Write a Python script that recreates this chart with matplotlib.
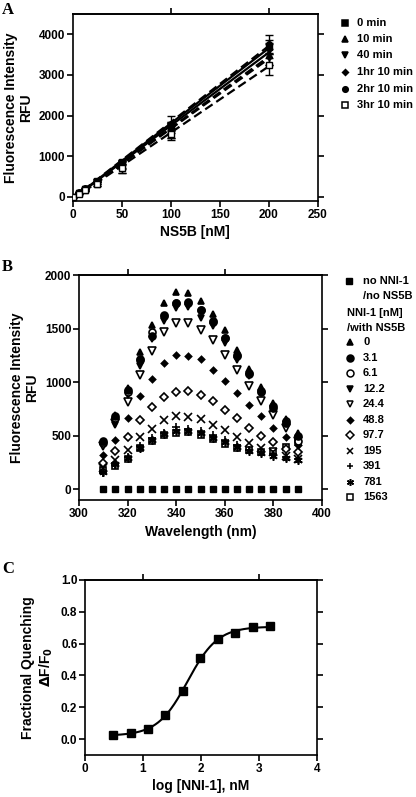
import numpy as np

import matplotlib
matplotlib.use('Agg')
import matplotlib.pyplot as plt

plt.rcParams['font.family'] = ['Liberation Sans', 'DejaVu Sans']
plt.rcParams['font.weight'] = 'bold'
plt.rcParams['axes.labelweight'] = 'bold'
plt.rcParams['axes.linewidth'] = 1.2
plt.rcParams['mathtext.default'] = 'bf'

# ---- panel A: RFU vs NS5B at different incubation times
ns5b_nM = [0, 6.25, 12.5, 25, 50, 100, 200]
time_labels = ['0 min', '10 min', '40 min', '1hr 10 min', '2hr 10 min', '3hr 10 min']
rfu_0min = [0, 100, 200, 400, 850, 1750, 3700]
rfu_10min = [0, 90, 180, 330, 740, 1650, 3500]
rfu_40min = [0, 100, 190, 370, 800, 1700, 3600]
rfu_1h10 = [0, 95, 180, 350, 780, 1600, 3450]
rfu_2h10 = [0, 110, 210, 400, 860, 1800, 3750]
rfu_3h10 = [0, 80, 170, 320, 700, 1550, 3250]
sd_0min = [0, 10, 20, 30, 60, 100, 150]
sd_10min = [0, 20, 30, 60, 140, 200, 250]
sd_40min = [0, 10, 20, 40, 80, 120, 180]
sd_1h10 = [0, 15, 25, 40, 90, 150, 200]
sd_2h10 = [0, 10, 20, 30, 60, 180, 230]
sd_3h10 = [0, 15, 25, 50, 100, 150, 260]

# ---- panel B: emission spectra
wavelength = [310, 315, 320, 325, 330, 335, 340, 345, 350, 355, 360, 365, 370, 375, 380, 385, 390]
no_nni_no_ns5b = [0] * 17
nni_conc = ['0', '3.1', '6.1', '12.2', '24.4', '48.8', '97.7', '195', '391', '781', '1563']
f_0 = [445, 697, 950, 1286, 1530, 1740, 1840, 1832, 1760, 1640, 1488, 1300, 1122, 955, 808, 660, 525]
f_3_1 = [450, 682, 925, 1220, 1430, 1630, 1736, 1742, 1676, 1566, 1410, 1240, 1075, 905, 760, 620, 496]
f_6_1 = [430, 670, 910, 1210, 1470, 1620, 1740, 1745, 1670, 1570, 1410, 1250, 1090, 920, 780, 640, 455]
f_12_2 = [420, 600, 880, 1150, 1400, 1575, 1690, 1700, 1600, 1520, 1365, 1210, 1060, 900, 750, 610, 480]
f_24_4 = [400, 620, 815, 1070, 1290, 1470, 1550, 1550, 1490, 1390, 1255, 1116, 965, 821, 698, 570, 455]
f_48_8 = [320, 462, 665, 868, 1032, 1180, 1256, 1248, 1215, 1116, 1010, 900, 785, 680, 575, 485, 415]
f_97_7 = [248, 360, 485, 650, 765, 865, 910, 915, 880, 820, 740, 665, 570, 500, 440, 380, 350]
f_195 = [200, 270, 365, 490, 560, 650, 685, 675, 655, 600, 550, 485, 430, 385, 345, 310, 285]
f_391 = [150, 230, 305, 400, 480, 530, 580, 560, 540, 510, 460, 410, 370, 345, 325, 300, 280]
f_781 = [160, 235, 295, 390, 460, 515, 540, 545, 525, 480, 440, 395, 360, 335, 315, 290, 270]
f_1563 = [180, 220, 285, 385, 450, 510, 525, 535, 505, 465, 425, 385, 365, 350, 355, 395, 440]

# ---- panel C: fractional quenching
nni_nM = [3.1, 6.1, 12.2, 24.4, 48.8, 97.7, 195, 391, 781, 1563]
quench = [0.027, 0.036, 0.062, 0.152, 0.305, 0.51, 0.627, 0.665, 0.703, 0.71]

fig = plt.figure(figsize=(4.16, 7.97), dpi=100)
W, H = 416.0, 797.0


def px_axes(l, t, r, b):
    return fig.add_axes([l / W, 1 - b / H, (r - l) / W, (b - t) / H])


def style(ax, top_ticks):
    ax.tick_params(direction='out', length=4, width=1.2, labelsize=8.5,
                   right=True, pad=1.5)
    for lab in ax.get_xticklabels() + ax.get_yticklabels():
        lab.set_fontweight('bold')
    sec = ax.secondary_xaxis('top')
    sec.set_xticks(top_ticks)
    sec.tick_params(direction='out', length=4, width=1.2, labeltop=False)
    sec.spines['top'].set_linewidth(1.2)


ms = dict(color='black', markeredgecolor='black')

# ---------------- A
axA = px_axes(72.7, 14, 318, 201)
seriesA = [rfu_0min, rfu_10min, rfu_40min, rfu_1h10, rfu_2h10, rfu_3h10]
sdA = [sd_0min, sd_10min, sd_40min, sd_1h10, sd_2h10, sd_3h10]
markA = ['s', '^', 'v', 'D', 'o', 's']
faceA = ['black'] * 5 + ['white']
sizeA = [4, 4.5, 4.5, 3, 4, 4]
lsA = ['-', (0, (4, 2)), '-', (0, (4, 2)), (0, (4, 2)), (0, (4, 2))]
x = np.array(ns5b_nM)
for yv, sd, m, fc, sz, ls in zip(seriesA, sdA, markA, faceA, sizeA, lsA):
    k, c = np.polyfit(x, yv, 1)
    xx = np.array([0, 200])
    axA.plot(xx, k * xx + c, color='black', lw=1.6, ls=ls, zorder=2)
    axA.errorbar(x, yv, yerr=sd, fmt=m, ms=sz, mfc=fc, mec='black',
                 ecolor='black', elinewidth=1, capsize=3, capthick=1, zorder=3)
axA.set_xlim(0, 250)
axA.set_ylim(-100, 4500)
axA.set_xticks([0, 50, 100, 150, 200, 250])
axA.set_yticks([0, 1000, 2000, 3000, 4000])
axA.set_xlabel('NS5B [nM]', fontsize=10, labelpad=3)
axA.set_ylabel('Fluorescence Intensity\nRFU', fontsize=10, labelpad=4,
               linespacing=1.1)
style(axA, [100, 200])

# ---------------- B
axB = px_axes(79, 275, 322, 500)
seriesB = [f_0, f_3_1, f_6_1, f_12_2, f_24_4, f_48_8, f_97_7, f_195, f_391, f_781, f_1563]
markB = ['^', 'o', 'o', 'v', 'v', 'D', 'D', 'x', '+', (6, 2, 0), 's']
faceB = ['black', 'black', 'white', 'black', 'white', 'black', 'white',
         'black', 'black', 'black', 'white']
sizeB = [4.5, 5, 5, 5, 6, 3.2, 4.3, 6, 6, 6, 5]
axB.plot(wavelength, no_nni_no_ns5b, 's', ms=4.5, **ms, zorder=3)
order = [10, 9, 8, 7, 6, 5, 4, 3, 2, 1, 0]
for i in order:
    axB.plot(wavelength, seriesB[i], linestyle='none', marker=markB[i],
             ms=sizeB[i], mfc=faceB[i], mec='black', mew=1.2, zorder=3)
axB.set_xlim(300, 400)
axB.set_ylim(-100, 2000)
axB.set_xticks([300, 320, 340, 360, 380, 400])
axB.set_yticks([0, 500, 1000, 1500, 2000])
axB.set_xlabel('Wavelength (nm)', fontsize=10, labelpad=4)
axB.set_ylabel('Fluorescence Intensity\nRFU', fontsize=10, labelpad=4,
               linespacing=1.1)
style(axB, [320, 360])

# ---------------- C
axC = px_axes(85, 580, 317, 755)
logx = np.log10(nni_nM)
yq = np.array(quench)
best = None
for c50 in np.linspace(1.4, 2.3, 181):
    for h in np.linspace(0.6, 3.0, 121):
        f = 1.0 / (1.0 + 10 ** ((c50 - logx) * h))
        A = np.column_stack([np.ones_like(f), f])
        coef, *_ = np.linalg.lstsq(A, yq, rcond=None)
        sse = np.sum((A @ coef - yq) ** 2)
        if best is None or sse < best[0]:
            best = (sse, c50, h, coef)
_, c50, h, coef = best
xs = np.linspace(logx.min(), logx.max(), 300)
axC.plot(xs, coef[0] + coef[1] / (1 + 10 ** ((c50 - xs) * h)), color='black', lw=1.5)
axC.plot(logx, yq, 's', ms=5.5, **ms, zorder=3)
axC.set_xlim(0, 4)
axC.set_ylim(-0.1, 1.0)
axC.set_xticks([0, 1, 2, 3, 4])
axC.set_yticks([0.0, 0.2, 0.4, 0.6, 0.8, 1.0])
axC.yaxis.set_major_formatter(matplotlib.ticker.FormatStrFormatter('%.1f'))
axC.set_xlabel('log [NNI-1], nM', fontsize=10, labelpad=3)
axC.set_ylabel('Fractional Quenching\n$\\Delta$F/F$_\\mathbf{0}$', fontsize=10,
               labelpad=4, linespacing=1.2)
style(axC, [1, 3])

# ---------------- legends (drawn in pixel space)
lg = fig.add_axes([0, 0, 1, 1], zorder=5)
lg.set_xlim(0, W)
lg.set_ylim(H, 0)
lg.axis('off')
ya = [23, 39, 55, 72, 89, 105]
for lab, m, fc, sz, yy in zip(time_labels, markA, faceA, sizeA, ya):
    lg.plot([345], [yy], marker=m, ms=sz, mfc=fc, mec='black', mew=1.1, linestyle='none')
    lg.text(357, yy, lab, fontsize=8, va='center', ha='left', fontweight='bold')

lg.plot([349], [281], 's', ms=4.5, **ms)
lg.text(363, 281, 'no NNI-1', fontsize=8, va='center', fontweight='bold')
lg.text(363, 296, '/no NS5B', fontsize=8, va='center', fontweight='bold')
lg.text(347, 313, 'NNI-1 [nM]', fontsize=8, va='center', fontweight='bold')
lg.text(347, 328, '/with NS5B', fontsize=8, va='center', fontweight='bold')
yb = np.linspace(342, 497, 11)
for i, yy in enumerate(yb):
    lg.plot([350], [yy], marker=markB[i], ms=min(sizeB[i], 5), mfc=faceB[i],
            mec='black', mew=1.1, linestyle='none')
    lg.text(363, yy, nni_conc[i], fontsize=8, va='center', fontweight='bold')

for lab, yy in [('A', 2), ('B', 259), ('C', 561)]:
    fig.text(2 / W, 1 - yy / H, lab, fontsize=12, fontweight='bold',
             family='Liberation Serif', va='top', ha='left')

fig.savefig('out.png', dpi=100)
